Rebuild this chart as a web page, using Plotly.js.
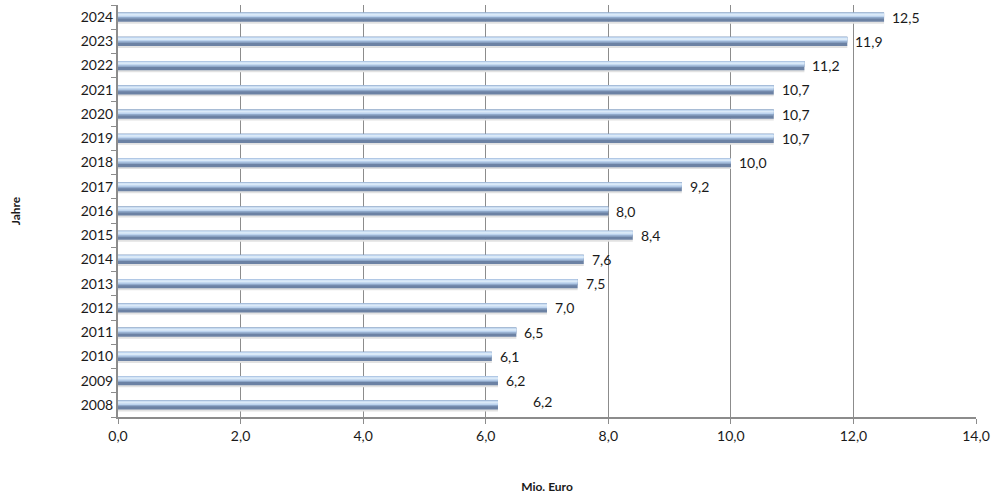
<!DOCTYPE html>
<html>
<head>
<meta charset="utf-8">
<script src="https://cdn.plot.ly/plotly-3.0.1.min.js"></script>
<style>html,body{margin:0;padding:0;background:#fff;}#chart{width:1000px;height:498px;}</style>
</head>
<body>
<div id="chart"></div>
<script>
const years = [2008, 2009, 2010, 2011, 2012, 2013, 2014, 2015, 2016, 2017, 2018, 2019, 2020, 2021, 2022, 2023, 2024];
const values = [6.2, 6.2, 6.1, 6.5, 7.0, 7.5, 7.6, 8.4, 8.0, 9.2, 10.0, 10.7, 10.7, 10.7, 11.2, 11.9, 12.5];
const xTickVals = [0, 2, 4, 6, 8, 10, 12, 14];

const fmt = v => v.toFixed(1).replace('.', ',');

function layer(color, offset, width) {
  return {
    type: 'bar', orientation: 'h', x: values, y: years,
    offset: offset, width: width,
    marker: {color: color, line: {width: 0}},
    hoverinfo: 'skip', showlegend: false
  };
}

const traces = [
  layer('#e2e2e2', -0.27, 0.1),
  layer('#6c82a4', -0.19, 0.38),
  layer('#90a9ca', -0.06, 0.25),
  layer('#bcd3ee', 0.0, 0.18),
  layer('#dbeaf8', 0.06, 0.08)
];

const annotations = values.map((v, i) => ({
  x: v, y: years[i], xref: 'x', yref: 'y',
  text: fmt(v), showarrow: false,
  xanchor: 'left', yanchor: 'middle',
  xshift: i === 0 ? 33 : 6, yshift: i === 0 ? 3 : 0,
  font: {family: 'Lato, "Liberation Sans", sans-serif', size: 14, color: '#1a1a1a'}
}));

const boundaries = years.map(y => y - 0.5).concat([years[years.length - 1] + 0.5]);

const layout = {
  width: 1000, height: 498,
  margin: {l: 118, r: 24, t: 5, b: 81},
  paper_bgcolor: '#ffffff', plot_bgcolor: '#ffffff',
  barmode: 'overlay',
  font: {family: 'Lato, "Liberation Sans", sans-serif', size: 14, color: '#1a1a1a'},
  xaxis: {
    range: [0, 14], tickvals: xTickVals, ticktext: xTickVals.map(fmt),
    showgrid: true, gridcolor: '#8c8c8c', gridwidth: 1,
    showline: true, linecolor: '#8c8c8c', linewidth: 2,
    ticks: 'outside', ticklen: 5, tickcolor: '#8c8c8c',
    zeroline: false, fixedrange: true,
    tickfont: {size: 14},
    title: {text: '<b>Mio. Euro</b>', font: {size: 12, color: '#1a1a1a'}, standoff: 40}
  },
  yaxis: {
    range: [2007.5, 2024.5], tickvals: years, ticktext: years.map(String),
    showgrid: false, showline: true, linecolor: '#8c8c8c', linewidth: 2,
    ticks: 'outside', ticklen: 0, tickcolor: 'rgba(0,0,0,0)',
    minor: {tickvals: boundaries, ticks: 'outside', ticklen: 5, tickcolor: '#8c8c8c', showgrid: false},
    zeroline: false, fixedrange: true,
    tickfont: {size: 14},
    title: {text: '<b>Jahre</b>', font: {size: 12, color: '#1a1a1a'}, standoff: 58}
  },
  annotations: annotations
};

Plotly.newPlot('chart', traces, layout, {displayModeBar: false, staticPlot: true});
</script>
</body>
</html>
